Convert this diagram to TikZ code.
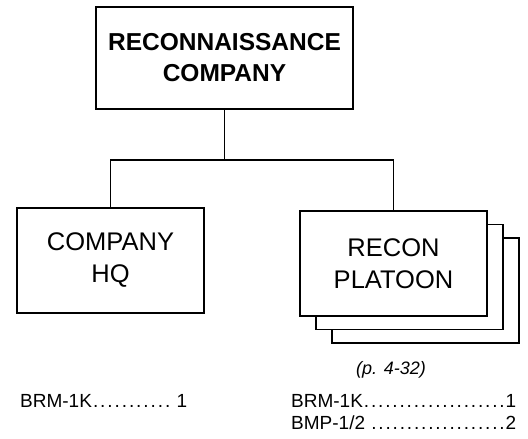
\documentclass[tikz,border=0pt]{standalone}
\usepackage{fontspec}
\setmainfont{Liberation Sans}
\newcommand{\dotrow}[3]{\hbox to #1{#2\xleaders\hbox to 0.37em{\hss.\hss}\hfill#3}}
\begin{document}
\begin{tikzpicture}[x=1pt,y=-1pt,
  unit/.style={draw=black,line width=1.8pt,fill=white,inner sep=0pt,align=center},
  conn/.style={line width=1.7pt},
  big/.style={font=\fontsize{24.5}{31}\selectfont\bfseries},
  mid/.style={font=\fontsize{25.5}{32}\selectfont},
  small/.style={font=\fontsize{19}{22}\selectfont},
  ref/.style={font=\fontsize{18}{20}\selectfont\itshape}]
\useasboundingbox (0,0) rectangle (528,439);
% top
\node[unit,big,minimum width=257pt,minimum height=102pt] (top) at (224.5,58) {RECONNAISSANCE\\COMPANY};
% company HQ
\node[unit,mid,minimum width=187pt,minimum height=105pt] (hq) at (110.5,260.5) {COMPANY\\HQ};
% platoon stack
\node[unit,minimum width=187pt,minimum height=105pt] (plt3) at (425.5,290.5) {};
\node[unit,minimum width=187pt,minimum height=105pt] (plt2) at (409.5,277) {};
\node[unit,mid,minimum width=187pt,minimum height=105pt] (plt) at (393.5,263.5) {RECON\\PLATOON};
% connectors
\coordinate (jl) at (hq.north |- 0,160);
\coordinate (jr) at (plt.north |- 0,160);
\draw[conn] (top.south) -- (top.south |- jl);
\draw[conn] (hq.north) -- (jl) -- (jr) -- (plt.north);
% labels
\node[ref,anchor=base] (pref) at (391,374) {(p. 4-32)};
\node[small,anchor=base west,inner sep=0pt] (hqeq) at (20,407) {\dotrow{167pt}{BRM-1K}{\ 1}};
\node[small,anchor=base west,inner sep=0pt] (pleq1) at (291,407) {\dotrow{225pt}{BRM-1K}{1}};
\node[small,anchor=base west,inner sep=0pt] (pleq2) at (291,429) {\dotrow{225pt}{BMP-1/2\ }{2}};
\end{tikzpicture}
\end{document}
